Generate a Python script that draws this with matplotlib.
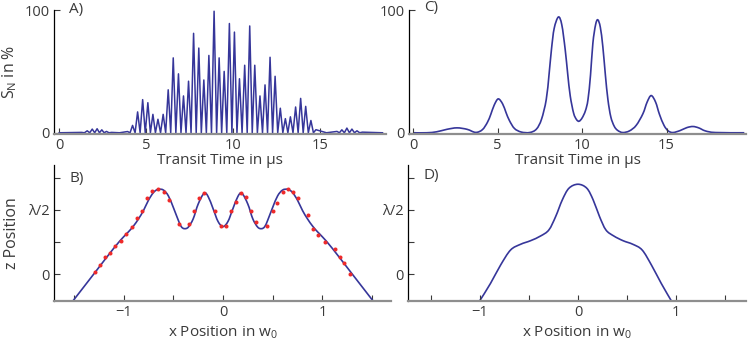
import matplotlib
matplotlib.use("Agg")
import matplotlib.pyplot as plt
from matplotlib.path import Path
from matplotlib.patches import PathPatch
import numpy as np

plt.rcParams['font.family'] = ['Open Sans', 'DejaVu Sans']
plt.rcParams['mathtext.fontset'] = 'custom'
plt.rcParams['mathtext.rm'] = 'Open Sans'
plt.rcParams['mathtext.it'] = 'Open Sans'
plt.rcParams['mathtext.default'] = 'regular'

# ---------------- data ----------------
# Panel A: peak times (µs) and peak heights (%) of the oscillating signal
A_peak_t = [1.29, 1.61, 1.90, 2.18, 2.45, 2.72, 3.01, 3.93, 4.22, 4.51, 4.80,
            5.10, 5.39, 5.68, 5.98, 6.27, 6.56, 6.86, 7.15, 7.44, 7.73, 8.03,
            8.32, 8.61, 8.91, 9.20, 9.49, 9.79, 10.08, 10.37, 10.67, 10.96,
            11.25, 11.55, 11.84, 12.13, 12.42, 12.72, 13.01, 13.30, 13.60,
            13.89, 14.18, 14.48, 14.77, 15.98, 16.26, 16.55, 16.84, 17.13, 17.44]
A_peak_v = [0.3, 1.6, 3.0, 3.3, 2.4, 1.1, 0.3, 1.0, 6, 17, 27,
            24.5, 15, 11, 15, 35, 61, 48, 30, 42, 81, 69,
            43, 63, 99, 61, 50, 89, 82, 44, 55, 87,
            55, 30, 39, 61.5, 46, 20, 11.5, 13, 21,
            28, 21.5, 10, 2.5, 1.1, 2.4, 3.8, 3.0, 1.6, 0.5]
A_trough_v = 0.0
A_t_range = [0.0, 18.6]

# Panel C: smooth signal (µs, %)
C_t = [0, 0.8, 1.4, 2.0, 2.6, 3.2, 3.7, 4.1, 4.4, 4.6, 4.8, 5.04, 5.3, 5.5,
       5.7, 6.0, 6.4, 6.9, 7.3, 7.6, 7.88, 8.05, 8.19, 8.35, 8.6, 8.8, 9.0,
       9.15, 9.3, 9.5, 9.67, 9.82, 10.0, 10.2, 10.35, 10.5, 10.64, 10.8,
       10.93, 11.08, 11.23, 11.38, 11.53, 11.7, 11.9, 12.1, 12.4, 12.8, 13.2,
       13.6, 13.85, 14.09, 14.35, 14.58, 14.85, 15.1, 15.38, 15.8, 16.2,
       16.56, 16.9, 17.3, 17.9, 19.6]
C_v = [0, 0, 0.8, 2.8, 4.0, 2.8, 0.3, 2.5, 8.5, 15, 22.5, 27.6, 23.5, 16.5,
       10, 3.5, 0.6, 0.2, 3, 11, 27, 48, 68, 85, 94.3, 88, 68,
       48, 30, 16, 10.8, 9.4, 12, 18, 27, 47, 73, 88,
       92, 86, 70, 47, 27, 13, 5.4, 2, 0.2, 1.5, 6,
       15.5, 25, 30.3, 25, 15, 6, 1.5, 0.2, 1.8, 4.2,
       5.1, 4, 1.5, 0.2, 0]

# Panel B: z position (in λ) vs x position (in w0), model line and measured dots
B_line_x = [-1.51, -1.3, -1.1, -1.0, -0.95, -0.9, -0.85, -0.8, -0.75, -0.7,
            -0.655, -0.6, -0.55, -0.5, -0.45, -0.42, -0.39, -0.35, -0.3,
            -0.25, -0.19, -0.15, -0.1, -0.05, 0.0, 0.05, 0.1, 0.15, 0.19,
            0.25, 0.3, 0.35, 0.39, 0.42, 0.45, 0.5, 0.55, 0.6, 0.655, 0.7,
            0.75, 0.8, 0.85, 0.9, 0.95, 1.0, 1.1, 1.3, 1.51]
B_line_z = [-0.21, 0.0, 0.2, 0.29, 0.33, 0.375, 0.43, 0.495, 0.575, 0.635,
            0.66, 0.655, 0.61, 0.52, 0.42, 0.37, 0.354, 0.365, 0.43,
            0.545, 0.63, 0.605, 0.51, 0.41, 0.37, 0.41, 0.51, 0.605, 0.63,
            0.545, 0.43, 0.365, 0.354, 0.37, 0.42, 0.52, 0.61, 0.655, 0.66,
            0.635, 0.575, 0.495, 0.43, 0.375, 0.33, 0.29, 0.2, 0.0, -0.21]
B_dot_x = [-1.286, -1.236, -1.186, -1.135, -1.085, -1.031, -0.974, -0.917,
           -0.867, -0.817, -0.762, -0.712, -0.655, -0.594, -0.547, -0.447,
           -0.343, -0.292, -0.242, -0.192, -0.084, -0.023, 0.034, 0.078,
           0.128, 0.178, 0.236, 0.286, 0.337, 0.447, 0.498, 0.548, 0.599,
           0.655, 0.706, 0.756, 0.857, 0.907, 0.958, 1.025, 1.126, 1.176,
           1.22, 1.277]
B_dot_z = [0.013, 0.07, 0.135, 0.167, 0.221, 0.258, 0.31, 0.365,
           0.435, 0.495, 0.596, 0.648, 0.664, 0.638, 0.578, 0.39,
           0.39, 0.495, 0.591, 0.635, 0.495, 0.375, 0.375, 0.495,
           0.565, 0.635, 0.604, 0.495, 0.409, 0.378, 0.495, 0.552, 0.638,
           0.664, 0.643, 0.591, 0.461, 0.352, 0.305, 0.253, 0.193, 0.135,
           0.083, 0.0]

# Panel D: smooth z profile
D_x = [-1.0, -0.893, -0.79, -0.688, -0.586, -0.484, -0.381, -0.297, -0.228,
       -0.16, -0.092, 0.0, 0.09, 0.155, 0.22, 0.285, 0.365, 0.46, 0.56,
       0.655, 0.75, 0.85, 0.95]
D_z = [-0.205, -0.073, 0.07, 0.1875, 0.232, 0.26, 0.297, 0.344, 0.448,
       0.578, 0.669, 0.70, 0.669, 0.578, 0.448, 0.344, 0.297, 0.26, 0.232,
       0.1875, 0.07, -0.073, -0.205]

# Tick labels
A_xticks = [0, 5, 10, 15]
A_yticks = [0, 100]
B_xticks_major = [-1, 0, 1]
B_xticks_minor = [-1.5, -0.5, 0.5, 1.5]
B_yticks = [0, 0.5]
B_yticks_minor = [0.25, 0.75]
B_yticklabels = ['0', 'λ/2']

# ---------------- style ----------------
W, H = 748, 345
fig = plt.figure(figsize=(W / 100, H / 100), dpi=100)
BLUE = '#36369a'
RED = '#ee2a2a'
TXT = '#3a3a3a'
GRAY = '#8e8e8e'


def px_axes(l, r, t, b):
    return fig.add_axes([l / W, (H - b) / H, (r - l) / W, (b - t) / H])


def style(ax):
    for s in ['top', 'right']:
        ax.spines[s].set_visible(False)
    ax.spines['left'].set_color('black')
    ax.spines['left'].set_linewidth(0.9)
    ax.spines['bottom'].set_color(GRAY)
    ax.spines['bottom'].set_linewidth(1.6)
    ax.tick_params(direction='in', length=4, width=0.8, colors=TXT,
                   labelsize=10.5, pad=3)
    ax.tick_params(which='minor', direction='in', length=4, width=0.8, colors=TXT)
    ax.set_facecolor('none')


def smooth_line(ax, x, y, clip=True, **kw):
    """Draw a smooth (Catmull-Rom / cubic Bezier) path through the data points."""
    pts = np.column_stack([x, y]).astype(float)
    verts = [pts[0]]
    codes = [Path.MOVETO]
    n = len(pts)
    for i in range(n - 1):
        p0 = pts[i - 1] if i > 0 else pts[i]
        p1 = pts[i]
        p2 = pts[i + 1]
        p3 = pts[i + 2] if i + 2 < n else pts[i + 1]
        verts += [p1 + (p2 - p0) / 6, p2 - (p3 - p1) / 6, p2]
        codes += [Path.CURVE4] * 3
    patch = PathPatch(Path(verts, codes), fill=False, **kw)
    patch.set_clip_on(clip)
    ax.add_patch(patch)


# A: trough values between peaks
tA = [A_t_range[0]]
vA = [A_trough_v]
for i, (t, v) in enumerate(zip(A_peak_t, A_peak_v)):
    if i > 0:
        tA.append((A_peak_t[i - 1] + t) / 2)
        vA.append(A_trough_v)
    tA.append(t)
    vA.append(v)
tA.append(A_t_range[1])
vA.append(A_trough_v)

axA = px_axes(54, 386, 10, 134)
axA.plot(tA, vA, color=BLUE, lw=1.1, clip_on=False)
axA.set_xlim(-0.3, 18.8)
axA.set_ylim(-1, 100)
axA.set_xticks(A_xticks)
axA.set_yticks(A_yticks)
style(axA)
axA.set_xlabel('Transit Time in µs', fontsize=11, color=TXT, labelpad=0)
axA.set_ylabel('S$_N$ in %', fontsize=11.5, color=TXT, labelpad=4)
axA.text(0.045, 1.0, 'A)', transform=axA.transAxes, fontsize=11, color=TXT,
         va='center', ha='left')

axC = px_axes(409, 746, 10, 134)
smooth_line(axC, C_t, C_v, clip=False, edgecolor=BLUE, lw=1.2)
axC.set_xlim(-0.24, 19.7)
axC.set_ylim(-1, 100)
axC.set_xticks(A_xticks)
axC.set_yticks(A_yticks)
style(axC)
axC.set_xlabel('Transit Time in µs', fontsize=11, color=TXT, labelpad=0)
axC.text(0.045, 1.02, 'C)', transform=axC.transAxes, fontsize=11, color=TXT,
         va='center', ha='left')

axB = px_axes(54, 391, 165, 301)
smooth_line(axB, B_line_x, B_line_z, clip=True, edgecolor=BLUE, lw=1.2, zorder=2)
axB.plot(B_dot_x, B_dot_z, 'o', color=RED, ms=2.9, mec='none', zorder=3)
axB.set_xlim(-1.7, 1.69)
axB.set_ylim(-0.21, 0.85)
axB.set_xticks(B_xticks_major)
axB.set_xticks(B_xticks_minor, minor=True)
axB.set_yticks(B_yticks)
axB.set_yticklabels(B_yticklabels)
axB.set_yticks(B_yticks_minor, minor=True)
style(axB)
axB.set_xlabel('x Position in w$_0$', fontsize=11, color=TXT, labelpad=3)
axB.set_ylabel('z Position', fontsize=11.5, color=TXT, labelpad=6)
axB.text(0.045, 0.9, 'B)', transform=axB.transAxes, fontsize=11, color=TXT,
         va='center', ha='left')

axD = px_axes(408, 746, 165, 301)
smooth_line(axD, D_x, D_z, clip=True, edgecolor=BLUE, lw=1.2)
axD.set_xlim(-1.735, 1.715)
axD.set_ylim(-0.21, 0.85)
axD.set_xticks(B_xticks_major)
axD.set_xticks(B_xticks_minor, minor=True)
axD.set_yticks(B_yticks)
axD.set_yticklabels(B_yticklabels)
axD.set_yticks(B_yticks_minor, minor=True)
style(axD)
axD.set_xlabel('x Position in w$_0$', fontsize=11, color=TXT, labelpad=3)
axD.text(0.045, 0.92, 'D)', transform=axD.transAxes, fontsize=11, color=TXT,
         va='center', ha='left')

fig.savefig('out.png', dpi=100)
